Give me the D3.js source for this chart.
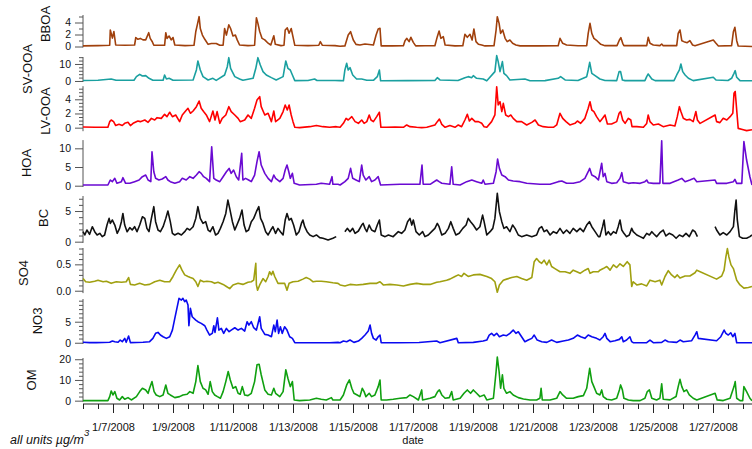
<!DOCTYPE html>
<html>
<head>
<meta charset="utf-8">
<script src="https://cdn.jsdelivr.net/npm/d3@7"></script>
<style>
  html, body { margin: 0; padding: 0; background: #fff; }
  svg { display: block; font-family: "Liberation Sans", Arial, sans-serif; }
</style>
</head>
<body>
<svg id="chart" width="752" height="449"></svg>
<script>
// day offsets from 1/6/2008 00:00, paired with concentration (µg/m3)
const bboa = [[0,0.1],[0.5,0.15],[0.89,0.2],[0.91,2.75],[0.98,1.4],[1.03,2.5],[1.09,0.25],[1.4,0.2],[1.72,0.25],[1.76,1.5],[1.83,1.2],[1.91,1.35],[2.0,1.1],[2.09,1.1],[2.19,2.3],[2.24,1.35],[2.31,0.8],[2.36,0.2],[2.72,0.2],[2.76,2.3],[2.8,1.35],[2.87,1.75],[2.94,1.1],[3.0,1.5],[3.06,0.25],[3.4,0.15],[3.7,0.2],[3.76,2.5],[3.81,3.6],[3.87,4.97],[3.91,3.0],[3.98,1.9],[4.06,1.2],[4.17,0.36],[4.28,0.5],[4.44,0.5],[4.56,0.2],[4.67,0.2],[4.72,3.0],[4.78,1.9],[4.86,3.6],[4.92,3.0],[5.0,1.75],[5.08,1.9],[5.14,1.1],[5.22,0.25],[5.5,0.15],[5.72,0.2],[5.78,4.8],[5.83,3.86],[5.89,2.5],[5.97,1.35],[6.06,1.1],[6.17,0.55],[6.26,0.25],[6.36,1.8],[6.41,0.36],[6.6,0.15],[6.7,0.2],[6.74,2.75],[6.81,3.1],[6.87,2.2],[6.94,3.0],[7.0,1.6],[7.06,0.2],[7.5,0.15],[7.86,0.2],[7.91,0.8],[7.98,0.2],[8.4,0.15],
  [8.57,0.05],[8.73,0.1],[8.84,1.92],[8.92,2.47],[9.01,1.08],[9.1,0.36],[9.23,0.25],[9.4,0.42],[9.68,0.25],[9.77,1.92],[9.84,2.92],[9.9,3.03],[9.94,0.1],[10.3,0.1],[10.68,0.12],[10.73,0.92],[10.79,1.36],[10.87,0.81],[10.93,1.53],[11.01,0.69],[11.09,0.1],[11.4,0.12],[11.73,0.12],[11.81,1.64],[11.87,2.58],[11.93,1.36],[12.01,1.64],[12.07,0.25],[12.4,0.1],[12.66,0.12],[12.73,2.03],[12.81,1.53],[12.9,2.03],[12.97,1.08],[13.03,2.92],[13.1,0.81],[13.18,0.36],[13.29,0.25],[13.4,0.1],[13.7,0.12],[13.77,2.75],[13.81,4.97],[13.87,3.86],[13.92,2.19],[13.99,2.75],[14.07,1.36],[14.14,0.81],[14.23,1.08],[14.32,0.53],[14.43,0.25],[14.57,0.1],[15.2,0.1],[15.84,0.12],[15.9,1.36],[15.99,0.53],[16.12,0.25],[16.5,0.12],[16.79,0.14],[16.84,2.19],[16.9,3.86],[16.96,2.19],[17.03,1.36],[17.14,0.92],
  [17.26,0.36],[17.4,0.14],[17.8,0.14],[17.88,1.08],[17.93,1.47],[17.99,0.53],[18.03,0.14],[18.79,0.14],[18.84,1.53],[18.9,0.53],[19.01,0.25],[19.23,0.14],[19.29,0.42],[19.34,0.14],[19.79,0.14],[19.84,2.19],[19.9,2.75],[19.96,0.97],[20.03,0.81],[20.14,0.64],[20.23,0.97],[20.32,0.25],[20.4,0.14],[21.01,1.08],[21.1,0.53],[21.18,0.08],[21.62,0.14],[21.68,2.47],[21.73,3.19],[21.79,0.97],[21.84,0.08],[22.3,0.0]];

const svooa = [[0,0.3],[0.5,0.4],[0.94,1.2],[1.1,0.4],[1.7,0.4],[1.78,2.55],[1.89,3.92],[1.98,2.94],[2.09,3.14],[2.2,1.57],[2.33,0.39],[2.67,0.4],[2.72,3.53],[2.78,1.18],[2.87,1.57],[3.0,0.39],[3.67,0.59],[3.78,6.47],[3.83,11.76],[3.91,6.47],[4.0,2.55],[4.17,0.59],[4.33,1.57],[4.44,0.39],[4.72,3.53],[4.81,8.4],[4.86,13.7],[4.92,7.45],[5.06,2.55],[5.22,1.18],[5.33,0.39],[5.67,1.57],[5.76,7.45],[5.83,13.7],[5.91,9.41],[6.0,5.49],[6.11,3.53],[6.28,1.96],[6.44,0.59],[6.67,2.55],[6.76,11.76],[6.83,7.45],[6.91,6.47],[6.98,3.53],[7.06,0.2],[7.5,0.3],[7.72,1.18],[7.8,0.3],[8.4,0.3],
  [8.57,0.2],[8.68,0.1],[8.73,6.47],[8.79,10.39],[8.84,6.47],[8.9,7.84],[8.99,3.53],[9.12,1.18],[9.29,1.18],[9.46,0.39],[9.68,0.39],[9.81,2.55],[9.88,6.47],[9.92,0.1],[10.8,0.2],[11.73,0.3],[11.81,1.96],[11.9,0.59],[12.5,0.3],[12.73,1.96],[12.84,2.55],[12.96,1.96],[13.01,3.14],[13.12,1.57],[13.34,1.18],[13.46,0.1],[13.73,5.49],[13.79,14.9],[13.84,11.37],[13.9,5.49],[13.98,11.37],[14.03,4.51],[14.12,3.14],[14.23,0.59],[14.73,1.18],[14.9,0.1],[15.4,0.2],[15.84,1.57],[15.92,2.55],[16.07,0.59],[16.5,0.3],[16.79,2.55],[16.84,6.47],[16.89,10.98],[16.96,4.51],[17.07,3.14],[17.23,1.18],
  [17.4,0.3],[17.79,0.2],[17.87,5.49],[17.92,5.49],[17.98,0.59],[18.07,0.2],[18.73,0.2],[18.79,2.55],[18.84,4.12],[18.96,1.18],[19.07,0.2],[19.7,0.2],[19.79,3.53],[19.88,6.47],[19.93,10.0],[19.99,5.49],[20.07,3.53],[20.18,1.57],[20.34,0.2],[21.01,2.16],[21.1,0.59],[21.5,0.3],[21.62,1.57],[21.7,4.51],[21.74,6.08],[21.79,2.16],[21.9,0.2],[22.3,0.1]];

const lvooa = [[0,0.1],[0.4,0.05],[0.83,0.05],[0.89,0.85],[0.94,1.08],[1.02,0.85],[1.09,0.3],[1.2,0.47],[1.31,0.3],[1.39,0.61],[1.5,0.75],[1.58,0.3],[1.67,0.61],[1.83,0.94],[1.91,0.85],[2.06,1.08],[2.17,0.75],[2.28,1.31],[2.39,1.08],[2.47,1.41],[2.61,1.31],[2.72,1.88],[2.8,1.55],[2.89,2.17],[2.98,1.55],[3.09,1.79],[3.22,0.85],[3.31,1.79],[3.42,2.35],[3.5,2.73],[3.58,2.03],[3.67,2.35],[3.78,2.96],[3.87,3.76],[3.94,2.73],[4.02,2.27],[4.11,1.79],[4.22,0.85],[4.33,2.35],[4.4,1.08],[4.47,2.27],[4.56,0.61],[4.64,1.31],[4.76,1.79],[4.86,2.96],[4.94,2.27],[5.06,1.79],[5.17,1.31],[5.24,0.85],[5.39,1.08],[5.5,1.79],[5.61,1.31],[5.72,2.73],[5.8,3.9],[5.89,4.37],[5.94,2.96],[6.06,1.79],[6.17,2.03],[6.28,0.85],[6.36,2.35],[6.42,0.85],[6.56,1.31],[6.67,2.27],[6.74,3.2],[6.81,2.49],[6.87,3.2],[6.94,1.79],[7.0,0.85],[7.06,0.05],[7.22,0.0],[7.56,0.14],[7.78,0.3],[8.0,0.14],[8.22,0.05],[8.44,0.14],
  [8.57,0.05],[8.68,0.61],[8.77,1.31],[8.84,1.08],[8.96,1.55],[9.07,0.85],[9.18,0.61],[9.29,1.08],[9.37,0.61],[9.46,0.85],[9.54,1.79],[9.6,1.08],[9.68,0.85],[9.79,1.55],[9.88,2.17],[9.93,0.05],[10.12,0.05],[10.4,0.1],[10.68,0.05],[10.79,0.38],[10.9,0.14],[11.12,0.05],[11.29,0.0],[11.46,0.05],[11.73,0.38],[11.81,0.85],[11.88,1.22],[11.96,0.47],[12.07,0.05],[12.23,0.3],[12.4,0.05],[12.51,0.38],[12.62,0.14],[12.73,1.08],[12.81,1.88],[12.88,0.94],[12.96,1.31],[13.07,0.85],[13.18,0.85],[13.29,0.61],[13.37,0.14],[13.46,0.05],[13.62,0.85],[13.73,1.79],[13.79,5.78],[13.84,3.2],[13.9,3.66],[13.96,2.27],[14.01,3.43],[14.09,1.79],[14.18,1.55],[14.26,1.79],[14.34,1.31],[14.46,0.85],[14.62,0.85],[14.79,0.38],[14.96,0.75],[15.07,1.08],[15.18,0.38],[15.34,0.14],[15.51,0.05],[15.68,0.05],[15.79,0.38],[15.9,2.03],[15.99,1.31],[16.1,0.85],[16.23,0.38],[16.4,0.61],[16.48,0.94],[16.59,0.61],[16.73,1.31],[16.84,2.73],[16.9,3.66],[16.96,2.49],[17.03,2.27],[17.12,1.55],[17.23,0.85],
  [17.32,1.32],[17.4,1.79],[17.48,0.52],[17.62,0.52],[17.79,0.85],[17.87,2.03],[17.92,2.27],[17.99,1.08],[18.07,0.6],[18.18,1.32],[18.26,1.08],[18.3,0.14],[18.46,0.14],[18.68,0.05],[18.79,0.6],[18.84,1.79],[18.9,0.85],[19.01,0.38],[19.18,0.52],[19.34,0.14],[19.57,0.38],[19.73,0.24],[19.81,1.55],[19.88,2.96],[19.93,2.27],[20.01,1.32],[20.12,1.08],[20.23,1.17],[20.34,0.85],[20.43,2.27],[20.48,1.08],[20.57,0.6],[21.07,1.79],[21.12,0.85],[21.23,0.71],[21.34,1.32],[21.46,1.08],[21.57,1.55],[21.66,2.03],[21.7,4.86],[21.74,5.1],[21.79,2.5],[21.84,-0.1],[22.01,-0.3],[22.12,-0.42],[22.3,-0.3]];

const hoa = [[0,0.19],[0.5,0.19],[0.83,0.19],[0.91,1.52],[0.98,1.08],[1.06,1.97],[1.13,0.64],[1.28,1.08],[1.33,2.14],[1.42,0.64],[1.56,0.64],[1.72,1.08],[1.87,1.52],[1.98,2.41],[2.09,2.85],[2.17,1.52],[2.26,1.08],[2.3,9.09],[2.36,3.74],[2.42,1.97],[2.53,1.52],[2.64,1.78],[2.76,2.41],[2.83,1.52],[2.91,1.08],[3.06,0.64],[3.22,1.08],[3.31,1.97],[3.44,1.52],[3.56,2.41],[3.67,1.97],[3.78,2.85],[3.87,3.74],[3.94,3.3],[4.02,2.41],[4.11,1.97],[4.22,1.08],[4.29,10.42],[4.36,1.97],[4.44,1.52],[4.56,1.08],[4.67,2.41],[4.78,3.74],[4.87,4.63],[4.94,3.3],[5.02,4.19],[5.11,2.41],[5.19,1.52],[5.29,8.64],[5.33,1.52],[5.42,1.97],[5.52,1.52],[5.61,1.08],[5.72,2.85],[5.8,6.42],[5.87,9.09],[5.94,5.53],[6.06,3.3],[6.17,1.97],[6.28,1.08],[6.36,2.85],[6.42,1.97],[6.56,1.08],[6.67,1.97],[6.74,4.19],[6.8,5.53],[6.86,3.74],[6.91,1.97],[6.98,3.3],[7.04,0.64],[7.22,0.19],[7.78,0.37],[7.94,0.64],[8.22,0.37],[8.3,2.41],[8.33,0.37],[8.5,0.37],
  [8.57,0.19],[8.73,1.08],[8.84,1.97],[8.92,4.63],[8.99,1.97],[9.1,1.52],[9.21,1.08],[9.29,5.53],[9.34,2.85],[9.43,1.52],[9.54,2.41],[9.62,1.08],[9.73,1.52],[9.84,2.41],[9.92,0.19],[10.57,0.37],[11.23,0.37],[11.3,5.53],[11.34,0.37],[11.57,0.37],[11.79,1.52],[11.87,1.08],[11.96,0.64],[12.23,0.37],[12.29,5.08],[12.34,0.37],[12.57,0.19],[12.79,1.08],[12.96,1.52],[13.12,1.08],[13.29,0.64],[13.34,1.52],[13.4,0.37],[13.68,0.64],[13.77,3.74],[13.82,7.13],[13.88,4.63],[13.96,2.85],[14.07,2.41],[14.18,1.52],[14.34,1.25],[14.57,1.08],[14.79,0.64],[15.23,0.37],[15.57,0.37],[15.84,1.08],[15.96,1.25],[16.12,0.64],[16.34,0.64],[16.57,1.08],[16.73,1.97],[16.84,3.74],[16.89,4.63],[16.96,2.85],[17.07,2.41],[17.18,1.52],
  [17.29,6.0],[17.34,2.4],[17.4,3.3],[17.46,1.07],[17.62,0.63],[17.79,0.8],[17.9,1.96],[17.96,3.48],[18.01,1.07],[18.18,0.63],[18.34,0.8],[18.57,0.63],[18.73,1.07],[18.79,1.52],[18.84,0.8],[19.01,0.63],[19.23,0.63],[19.29,12.0],[19.33,0.63],[19.57,0.63],[19.84,1.52],[19.96,1.96],[20.07,1.07],[20.23,1.52],[20.37,1.96],[20.46,1.07],[21.07,1.52],[21.12,0.63],[21.46,0.63],[21.68,1.07],[21.73,1.7],[21.79,0.63],[21.96,0.63],[22.03,11.8],[22.12,6.87],[22.23,2.4],[22.3,0.2]];

// null = no data (instrument gap)
const bc = [[0,1.63],[0.06,1.09],[0.13,1.9],[0.22,1.2],[0.31,2.44],[0.39,1.63],[0.47,1.09],[0.56,1.36],[0.64,0.82],[0.72,1.09],[0.8,2.71],[0.87,3.8],[0.91,2.98],[0.98,3.53],[1.06,2.71],[1.14,1.36],[1.22,2.17],[1.28,3.26],[1.33,4.6],[1.39,2.71],[1.47,1.63],[1.56,2.28],[1.64,1.9],[1.72,2.44],[1.8,1.63],[1.89,2.71],[1.98,4.07],[2.06,3.8],[2.13,2.17],[2.2,1.63],[2.28,3.8],[2.36,5.71],[2.42,3.26],[2.5,1.9],[2.58,1.63],[2.67,2.44],[2.76,3.8],[2.83,5.0],[2.91,3.26],[2.98,1.36],[3.06,1.09],[3.17,1.36],[3.28,1.09],[3.39,1.63],[3.47,2.17],[3.56,1.9],[3.67,2.44],[3.76,3.8],[3.83,5.71],[3.91,3.8],[4.0,2.98],[4.09,3.26],[4.17,1.9],[4.24,1.63],[4.33,2.44],[4.42,1.09],[4.5,1.36],[4.58,2.17],[4.67,3.26],[4.76,4.6],[4.83,6.79],[4.89,5.43],[4.98,3.26],[5.06,1.9],[5.13,2.71],[5.22,3.8],[5.3,5.16],[5.37,2.71],[5.44,1.63],[5.52,1.9],[5.61,3.26],[5.69,3.8],[5.78,4.89],[5.86,5.71],[5.92,3.8],[6.0,2.98],[6.09,1.63],[6.17,1.09],[6.26,1.9],[6.33,2.44],[6.42,1.36],[6.5,2.17],[6.58,1.63],[6.67,1.09],[6.74,3.53],[6.8,4.6],[6.87,3.53],[6.94,3.8],[7.02,2.71],[7.11,1.09],[7.2,1.63],[7.28,2.98],[7.33,3.53],[7.39,2.44],[7.47,1.63],[7.56,1.09],[7.67,0.82],[7.78,1.09],[7.89,0.66],[8.0,0.55],[8.17,0.28],[8.33,0.55],[8.44,0.82],
  null,
  [8.73,1.63],[8.81,2.17],[8.9,1.63],[8.99,2.17],[9.07,1.36],[9.18,1.74],[9.29,2.71],[9.34,2.98],[9.4,2.17],[9.46,1.63],[9.54,2.71],[9.62,1.9],[9.73,1.63],[9.81,2.71],[9.88,3.53],[9.94,1.09],[10.07,0.82],[10.18,1.09],[10.34,0.82],[10.51,1.63],[10.62,1.36],[10.73,1.9],[10.82,3.26],[10.9,3.8],[10.96,2.71],[11.01,3.53],[11.1,1.63],[11.21,1.09],[11.32,1.63],[11.4,0.82],[11.51,1.09],[11.62,1.63],[11.73,2.17],[11.81,2.98],[11.87,2.44],[11.96,1.09],[12.07,1.36],[12.18,2.17],[12.26,3.26],[12.34,2.17],[12.43,1.09],[12.54,1.36],[12.66,2.17],[12.77,2.71],[12.84,3.8],[12.92,3.26],[13.01,2.71],[13.12,1.9],[13.23,2.44],[13.32,4.34],[13.37,3.26],[13.46,1.09],[13.57,1.63],[13.66,2.17],[13.73,3.8],[13.81,7.88],[13.88,4.89],[13.96,3.26],[14.03,2.17],[14.12,2.44],[14.23,1.63],[14.32,2.71],[14.4,2.17],[14.51,1.09],[14.62,0.82],[14.79,1.09],[14.96,0.82],[15.12,1.09],[15.21,2.17],[15.29,2.44],[15.37,1.63],[15.46,1.9],[15.57,1.09],[15.68,1.63],[15.79,1.36],[15.9,2.17],[16.01,1.36],[16.12,1.9],[16.23,1.36],[16.34,2.17],[16.46,1.63],[16.57,2.17],[16.68,1.63],[16.79,2.71],[16.88,3.26],[16.96,2.44],[17.07,1.63],[17.18,0.82],
  [17.23,0.82],[17.32,2.45],[17.37,3.54],[17.43,1.09],[17.51,1.63],[17.59,1.09],[17.68,1.63],[17.77,1.36],[17.84,2.45],[17.9,3.54],[17.96,1.9],[18.03,1.36],[18.12,0.82],[18.21,1.09],[18.29,2.17],[18.34,1.63],[18.46,1.09],[18.57,0.82],[18.68,0.55],[18.79,1.36],[18.88,1.09],[18.96,1.63],[19.03,1.25],[19.12,0.82],[19.23,1.47],[19.34,1.9],[19.43,0.93],[19.54,1.36],[19.66,1.09],[19.77,0.55],[19.88,1.09],[19.99,0.82],[20.1,1.36],[20.21,0.82],[20.32,1.9],[20.4,1.63],[20.48,0.82],
  null,
  [21.07,2.45],[21.12,1.9],[21.23,1.09],[21.34,1.47],[21.46,1.09],[21.57,1.63],[21.68,2.45],[21.73,5.16],[21.77,6.79],[21.81,3.54],[21.88,0.82],[21.99,0.55],[22.12,0.55],[22.23,0.82],[22.3,1.09]];

const so4 = [[0,0.23],[0.09,0.17],[0.22,0.16],[0.39,0.18],[0.5,0.2],[0.67,0.17],[0.78,0.18],[0.94,0.14],[1.11,0.17],[1.28,0.16],[1.44,0.17],[1.52,0.25],[1.58,0.12],[1.72,0.11],[1.89,0.14],[2.06,0.11],[2.22,0.12],[2.39,0.17],[2.56,0.2],[2.72,0.17],[2.89,0.17],[3.0,0.27],[3.11,0.39],[3.22,0.49],[3.3,0.39],[3.39,0.3],[3.5,0.27],[3.58,0.25],[3.67,0.23],[3.76,0.17],[3.83,0.08],[3.91,0.2],[4.02,0.17],[4.13,0.18],[4.28,0.17],[4.39,0.14],[4.5,0.16],[4.67,0.12],[4.78,0.08],[4.89,0.04],[5.0,0.11],[5.17,0.14],[5.33,0.12],[5.5,0.16],[5.61,0.17],[5.69,0.2],[5.76,0.52],[5.78,0.11],[5.82,0.01],[5.89,0.11],[6.0,0.23],[6.09,0.17],[6.17,0.27],[6.22,0.36],[6.28,0.3],[6.33,0.37],[6.39,0.27],[6.5,0.14],[6.61,0.14],[6.72,0.14],[6.8,0.01],[6.87,0.14],[7.0,0.17],[7.17,0.18],[7.33,0.22],[7.44,0.25],[7.56,0.22],[7.67,0.17],[7.78,0.18],[7.94,0.18],[8.11,0.17],[8.33,0.15],[8.5,0.14],
  [8.57,0.11],[8.73,0.09],[8.9,0.12],[9.12,0.11],[9.34,0.12],[9.57,0.14],[9.79,0.14],[9.9,0.17],[10.01,0.11],[10.23,0.12],[10.46,0.11],[10.68,0.09],[10.9,0.12],[11.12,0.14],[11.34,0.12],[11.57,0.12],[11.79,0.16],[11.9,0.17],[12.12,0.2],[12.23,0.22],[12.4,0.27],[12.51,0.3],[12.62,0.27],[12.7,0.33],[12.84,0.27],[13.01,0.3],[13.23,0.31],[13.46,0.27],[13.62,0.23],[13.73,0.17],[13.81,-0.03],[13.88,0.11],[14.01,0.2],[14.12,0.22],[14.29,0.25],[14.46,0.27],[14.62,0.23],[14.79,0.2],[14.96,0.25],[15.04,0.55],[15.12,0.61],[15.21,0.55],[15.29,0.52],[15.37,0.58],[15.46,0.49],[15.54,0.58],[15.62,0.46],[15.73,0.42],[15.9,0.36],[16.07,0.36],[16.23,0.33],[16.34,0.39],[16.46,0.36],[16.57,0.33],[16.73,0.39],[16.84,0.42],[16.9,0.33],[17.01,0.36],[17.18,0.36],
  [17.23,0.39],[17.34,0.42],[17.46,0.46],[17.57,0.39],[17.68,0.49],[17.79,0.44],[17.9,0.51],[18.01,0.46],[18.14,0.55],[18.23,0.49],[18.29,0.08],[18.34,0.17],[18.46,0.11],[18.62,0.13],[18.79,0.09],[18.9,0.2],[19.07,0.17],[19.23,0.2],[19.29,0.11],[19.4,0.27],[19.51,0.38],[19.62,0.3],[19.73,0.25],[19.81,0.3],[19.9,0.24],[20.07,0.28],[20.23,0.28],[20.4,0.34],[20.46,0.39],[21.12,0.22],[21.29,0.28],[21.37,0.39],[21.43,0.64],[21.48,0.8],[21.53,0.64],[21.6,0.49],[21.68,0.42],[21.79,0.2],[21.9,0.11],[22.03,0.05],[22.18,0.06],[22.3,0.08]];

const no3 = [[0,0.1],[0.22,0.02],[0.44,0.02],[0.67,0.05],[0.89,0.1],[0.98,0.4],[1.06,0.25],[1.17,0.1],[1.24,0.64],[1.31,0.25],[1.39,1.04],[1.44,0.1],[1.52,1.59],[1.58,0.02],[1.78,0.05],[2.0,0.1],[2.22,0.25],[2.33,1.04],[2.42,2.23],[2.5,2.46],[2.58,1.83],[2.67,1.43],[2.78,1.04],[2.89,1.43],[2.98,3.01],[3.06,5.79],[3.13,8.17],[3.2,10.55],[3.28,10.15],[3.33,10.55],[3.39,9.75],[3.44,10.15],[3.5,8.96],[3.53,4.04],[3.58,8.17],[3.64,6.18],[3.76,5.39],[3.83,5.0],[3.94,4.6],[4.06,4.04],[4.13,3.01],[4.22,1.83],[4.31,2.23],[4.36,4.04],[4.4,2.46],[4.48,5.94],[4.53,3.01],[4.61,3.41],[4.69,2.23],[4.78,3.41],[4.87,2.62],[4.94,3.01],[5.06,3.57],[5.17,3.01],[5.28,3.41],[5.39,2.78],[5.47,5.0],[5.53,4.2],[5.61,5.0],[5.69,3.57],[5.78,3.01],[5.89,6.18],[5.94,3.41],[6.06,1.99],[6.17,1.83],[6.28,1.43],[6.36,4.2],[6.41,2.62],[6.47,5.39],[6.52,2.23],[6.58,3.8],[6.64,2.23],[6.72,3.8],[6.8,3.01],[6.89,1.43],[6.98,1.04],[7.06,0.0],[7.33,0.0],[7.78,0.0],[8.22,0.0],[8.5,0.09],
  [8.57,0.0],[8.68,0.4],[8.79,0.25],[8.9,0.64],[9.03,0.09],[9.18,0.4],[9.29,1.04],[9.4,1.83],[9.51,2.78],[9.57,4.2],[9.62,2.23],[9.68,1.04],[9.77,0.64],[9.84,1.43],[9.9,1.83],[9.94,0.0],[10.5,0.0],[11.2,0.05],[11.79,0.4],[11.9,0.01],[12.46,1.04],[12.51,0.01],[13.01,0.09],[13.34,0.4],[13.46,0.64],[13.54,1.83],[13.62,2.23],[13.7,1.67],[13.79,2.23],[13.88,1.43],[14.01,1.83],[14.12,1.67],[14.23,2.23],[14.34,3.01],[14.43,2.23],[14.51,2.62],[14.62,1.43],[14.73,0.25],[14.84,0.64],[14.96,1.04],[15.04,1.83],[15.14,0.64],[15.29,0.25],[15.46,0.09],[15.62,0.64],[15.79,0.09],[16.01,0.4],[16.18,0.64],[16.34,1.04],[16.48,1.83],[16.59,1.43],[16.73,1.04],[16.84,1.83],[16.96,1.43],[17.12,1.04],
  [17.23,0.64],[17.34,1.43],[17.4,2.23],[17.46,1.04],[17.57,0.25],[17.73,0.48],[17.88,0.8],[17.96,1.43],[18.01,0.25],[18.12,0.64],[18.23,1.43],[18.29,0.25],[18.34,0.01],[18.79,0.01],[18.9,0.64],[19.01,0.01],[19.29,0.09],[19.4,0.64],[19.51,0.25],[19.79,0.09],[19.9,0.64],[20.01,0.25],[20.29,0.48],[20.4,1.83],[20.46,2.62],[20.51,1.04],[21.12,0.48],[21.26,1.43],[21.37,3.02],[21.43,2.23],[21.51,1.83],[21.59,2.38],[21.66,1.43],[21.73,2.23],[21.79,0.0],[22.3,0.0]];

const om = [[0,0.0],[0.5,0.02],[0.83,0.02],[0.89,1.95],[0.94,4.69],[1.0,2.75],[1.06,4.37],[1.13,1.15],[1.22,0.34],[1.31,1.95],[1.39,0.66],[1.5,1.47],[1.61,0.34],[1.78,1.95],[1.89,4.37],[1.98,5.98],[2.09,5.18],[2.17,3.56],[2.22,5.98],[2.3,9.2],[2.37,4.37],[2.44,2.75],[2.56,1.95],[2.67,2.75],[2.76,7.59],[2.83,3.56],[2.91,2.75],[3.06,1.47],[3.22,1.95],[3.33,2.75],[3.47,3.08],[3.56,4.37],[3.67,3.56],[3.76,9.2],[3.83,16.98],[3.91,9.2],[4.0,5.98],[4.09,5.18],[4.17,3.08],[4.24,9.2],[4.31,4.37],[4.39,2.75],[4.48,1.95],[4.58,1.15],[4.67,4.37],[4.76,9.2],[4.84,14.08],[4.91,10.0],[5.0,5.98],[5.09,6.79],[5.17,3.56],[5.24,3.08],[5.31,6.79],[5.39,2.75],[5.5,2.43],[5.61,3.56],[5.72,9.2],[5.8,17.3],[5.87,17.6],[5.94,12.5],[6.06,5.18],[6.17,3.08],[6.28,2.75],[6.36,5.98],[6.42,3.56],[6.56,1.95],[6.67,4.37],[6.76,14.9],[6.83,10.8],[6.91,6.79],[6.98,9.2],[7.04,0.34],[7.22,0.0],[7.56,0.34],[7.78,1.15],[7.94,0.66],[8.11,0.34],[8.28,1.47],[8.33,0.34],[8.5,0.34],
  [8.57,0.34],[8.68,2.75],[8.79,7.59],[8.88,10.0],[8.96,5.98],[9.03,3.56],[9.14,2.75],[9.23,1.95],[9.31,5.98],[9.37,4.37],[9.43,1.95],[9.54,3.56],[9.62,1.95],[9.73,2.75],[9.84,6.79],[9.9,10.0],[9.94,0.34],[10.12,0.34],[10.34,0.66],[10.57,1.15],[10.79,1.47],[10.9,2.75],[11.01,1.95],[11.18,0.34],[11.29,5.18],[11.32,0.34],[11.57,1.15],[11.73,1.95],[11.82,4.37],[11.88,5.18],[11.96,2.75],[12.07,1.15],[12.21,1.47],[12.29,4.37],[12.34,0.34],[12.57,1.15],[12.7,3.56],[12.81,5.18],[12.92,3.56],[13.01,5.18],[13.12,3.56],[13.23,1.95],[13.37,2.75],[13.46,0.34],[13.68,1.15],[13.77,14.08],[13.81,21.0],[13.87,14.08],[13.92,5.98],[13.98,12.5],[14.03,5.98],[14.12,3.56],[14.23,4.37],[14.34,2.75],[14.51,1.47],[14.68,0.82],[14.9,0.34],[15.12,0.34],[15.23,1.15],[15.27,5.98],[15.31,0.34],[15.57,0.34],[15.79,1.15],[15.9,4.37],[15.99,2.75],[16.12,1.15],[16.34,1.15],[16.51,1.95],[16.68,2.43],[16.79,5.98],[16.84,10.8],[16.89,15.6],[16.96,9.2],[17.03,6.79],[17.12,3.56],[17.23,2.75],
  [17.29,5.2],[17.34,2.0],[17.46,0.68],[17.62,0.36],[17.79,1.17],[17.88,5.2],[17.92,7.6],[17.98,5.2],[18.03,1.17],[18.18,0.36],[18.34,0.03],[18.57,0.03],[18.73,1.17],[18.81,4.4],[18.88,5.2],[18.96,1.17],[19.12,0.36],[19.23,1.17],[19.29,8.1],[19.34,0.68],[19.57,0.36],[19.77,2.0],[19.84,6.8],[19.9,10.3],[19.96,6.8],[20.03,4.4],[20.12,5.2],[20.21,2.8],[20.34,1.17],[20.46,0.36],[21.07,3.6],[21.14,0.36],[21.34,0.03],[21.57,1.17],[21.7,6.8],[21.74,9.2],[21.79,1.17],[21.9,0.03],[21.99,0.03],[22.03,6.8],[22.12,4.4],[22.23,1.17],[22.3,0.0]];

const seriesNames = ["BBOA", "SV-OOA", "LV-OOA", "HOA", "BC", "SO4", "NO3", "OM"];
const seriesColors = ["#a0400c", "#1aa0a0", "#ff0000", "#6a0ad2", "#111111", "#a0a010", "#0a0af0", "#10a010"];
const seriesData = [bboa, svooa, lvooa, hoa, bc, so4, no3, om];
const majorTicks = [[0, 2, 4], [0, 10], [0, 2, 4], [0, 5, 10], [0, 5], [0, 0.5], [0, 5], [0, 10, 20]];
const minorStep = [1, 2, 0.5, 0, 1, 0.1, 1, 2];
const dateTickLabels = ["1/7/2008", "1/9/2008", "1/11/2008", "1/13/2008", "1/15/2008", "1/17/2008",
                        "1/19/2008", "1/21/2008", "1/23/2008", "1/25/2008", "1/27/2008"];

// panel layout: value domain and pixel band for each panel
const panelDomain = [[-0.15, 5.25], [-0.6, 14.1], [-0.5, 5.85], [-0.35, 12.2], [-0.2, 7.45], [-0.045, 0.81], [-0.3, 10.4], [-0.5, 20.6]];
const panelBand = [[47.4, 15], [82, 57], [131.2, 86.2], [187, 140.1], [242.9, 196], [293.1, 248], [344, 299], [401.7, 358]];
const titlePos = [[45, 24], [27, 69], [45, 111], [26, 163], [43, 218], [23, 273], [37, 321], [31, 380]];

const svg = d3.select("#chart");
const t0 = Date.UTC(2008, 0, 6);
const DAY = 86400000;
const toDate = d => new Date(t0 + d * DAY);

const x = d3.scaleUtc()
    .domain([toDate(0), toDate(22.3)])
    .range([83, 752]);

const axisColor = "#555";

seriesNames.forEach((name, i) => {
    const y = d3.scaleLinear().domain(panelDomain[i]).range(panelBand[i]);
    const g = svg.append("g");

    // major ticks carry labels, minor ticks are shorter and bare
    const dom = panelDomain[i];
    const majors = majorTicks[i];
    let minors = [];
    if (minorStep[i] > 0) {
        minors = d3.range(0, dom[1] + 1e-9, minorStep[i])
            .filter(v => !majors.some(m => Math.abs(m - v) < 1e-6));
    }
    const yAxisMajor = d3.axisLeft(y).tickValues(majors).tickSize(8).tickPadding(4)
        .tickFormat(name === "SO4" ? d3.format(".1f") : d3.format("d"));
    const yAxisMinor = d3.axisLeft(y).tickValues(minors).tickSize(4).tickFormat("");

    const gMinor = g.append("g").attr("transform", "translate(83,0)").call(yAxisMinor);
    const gMajor = g.append("g").attr("transform", "translate(83,0)").call(yAxisMajor);
    [gMinor, gMajor].forEach(ax => {
        ax.select(".domain").remove();
        ax.selectAll("line").attr("stroke", axisColor);
    });
    gMajor.selectAll("text").attr("font-size", 10.5).attr("fill", "#111")
        .attr("font-family", "Liberation Sans, Arial, sans-serif");

    g.append("line")
        .attr("x1", 83).attr("x2", 83)
        .attr("y1", panelBand[i][0]).attr("y2", panelBand[i][1])
        .attr("stroke", axisColor);

    g.append("text")
        .attr("transform", `translate(${titlePos[i][0]},${titlePos[i][1]}) rotate(-90)`)
        .attr("text-anchor", "middle")
        .attr("dy", "0.35em")
        .attr("font-size", 13)
        .attr("fill", "#111")
        .text(name);

    const line = d3.line()
        .defined(d => d != null)
        .x(d => x(toDate(d[0])))
        .y(d => y(d[1]));

    g.append("path")
        .datum(seriesData[i])
        .attr("fill", "none")
        .attr("stroke", seriesColors[i])
        .attr("stroke-width", 1.6)
        .attr("stroke-linejoin", "round")
        .attr("d", line);
});

// date axis
const xAxisY = 404;
const majorDates = dateTickLabels.map(s => {
    const p = s.split("/").map(Number);
    return new Date(Date.UTC(p[2], p[0] - 1, p[1]));
});
const minorDates = d3.utcHour.every(12).range(toDate(0), toDate(22.31))
    .filter(d => !majorDates.some(m => +m === +d));

const gx = svg.append("g").attr("transform", `translate(0,${xAxisY})`);
gx.append("g").call(d3.axisBottom(x).tickValues(minorDates).tickSize(5).tickFormat(""));
gx.append("g").call(d3.axisBottom(x).tickValues(majorDates).tickSize(9).tickPadding(10)
    .tickFormat((d, i) => dateTickLabels[i]));
gx.selectAll(".domain").remove();
gx.selectAll("line").attr("stroke", "#222");
gx.selectAll("text").attr("font-size", 11).attr("fill", "#111")
    .attr("font-family", "Liberation Sans, Arial, sans-serif");
gx.append("line").attr("x1", 83).attr("x2", 752).attr("stroke", "#222");

svg.append("text")
    .attr("x", 413).attr("y", 444)
    .attr("text-anchor", "middle")
    .attr("font-size", 11)
    .attr("fill", "#111")
    .text("date");

const units = svg.append("text")
    .attr("x", 10).attr("y", 444)
    .attr("font-size", 12.5)
    .attr("font-style", "italic")
    .attr("fill", "#111");
units.append("tspan").text("all units µg/m");
units.append("tspan").attr("font-size", 9.5).attr("dy", -8).text("3");
</script>
</body>
</html>
